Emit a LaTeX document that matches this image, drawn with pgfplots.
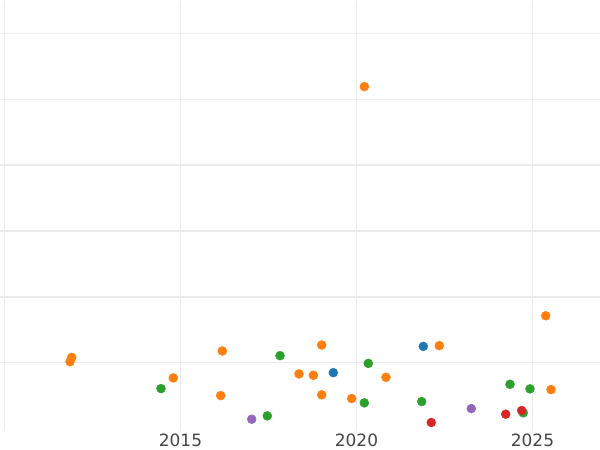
\documentclass[border=0pt]{standalone}
\usepackage{pgfplots}
\pgfplotsset{compat=1.18}
\usepackage{fontspec}
\setmainfont{DejaVu Sans}
\definecolor{cblue}{HTML}{1F77B4}
\definecolor{corange}{HTML}{FF7F0E}
\definecolor{cgreen}{HTML}{2CA02C}
\definecolor{cred}{HTML}{D62728}
\definecolor{cpurple}{HTML}{9467BD}
\definecolor{gridc}{HTML}{EBEBEB}
\definecolor{tickc}{HTML}{444444}
\begin{document}
\begin{tikzpicture}
\begin{axis}[
  scale only axis,
  width=600bp, height=427bp,
  xmin=2009.872, xmax=2026.918,
  ymin=0, ymax=6.485,
  axis line style={draw=none},
  major tick length=0pt,
  xtick={2010,2015,2020,2025},
  xticklabels={,2015,2020,2025},
  ytick={1,2,3,4,5,6},
  yticklabels={},
  grid=major,
  grid style={gridc, line width=1.4bp},
  tick label style={font=\fontsize{17}{20}\selectfont, text=tickc},
  xticklabel style={yshift=-2bp},
  clip=false,
  every axis plot/.append style={only marks, mark=*, mark size=4.5bp, mark options={draw=none}},
]
\addplot[cblue, mark options={fill=cblue}] coordinates {
(2019.341,0.848) (2021.898,1.247)
};
\addplot[corange, mark options={fill=corange}] coordinates {
(2011.909,1.080) (2011.861,1.015) (2014.795,0.768) (2016.188,1.177)
(2016.142,0.500) (2018.366,0.829) (2018.773,0.808) (2019.011,1.268)
(2019.011,0.511) (2019.864,0.455) (2020.838,0.777) (2022.352,1.258)
(2025.526,0.591) (2025.375,1.712) (2020.222,5.192)
};
\addplot[cgreen, mark options={fill=cgreen}] coordinates {
(2014.446,0.606) (2017.466,0.192) (2017.827,1.106) (2020.222,0.389)
(2020.335,0.989) (2021.852,0.409) (2024.361,0.671) (2024.739,0.238)
(2024.929,0.602)
};
\addplot[cred, mark options={fill=cred}] coordinates {
(2022.125,0.091) (2024.239,0.217) (2024.693,0.273)
};
\addplot[cpurple, mark options={fill=cpurple}] coordinates {
(2017.023,0.141) (2023.261,0.303)
};
\end{axis}
\pgfresetboundingbox
\path (current axis.south west) ++(0,-21.5bp) rectangle ([yshift=1.5bp]current axis.north east);
\end{tikzpicture}
\end{document}
